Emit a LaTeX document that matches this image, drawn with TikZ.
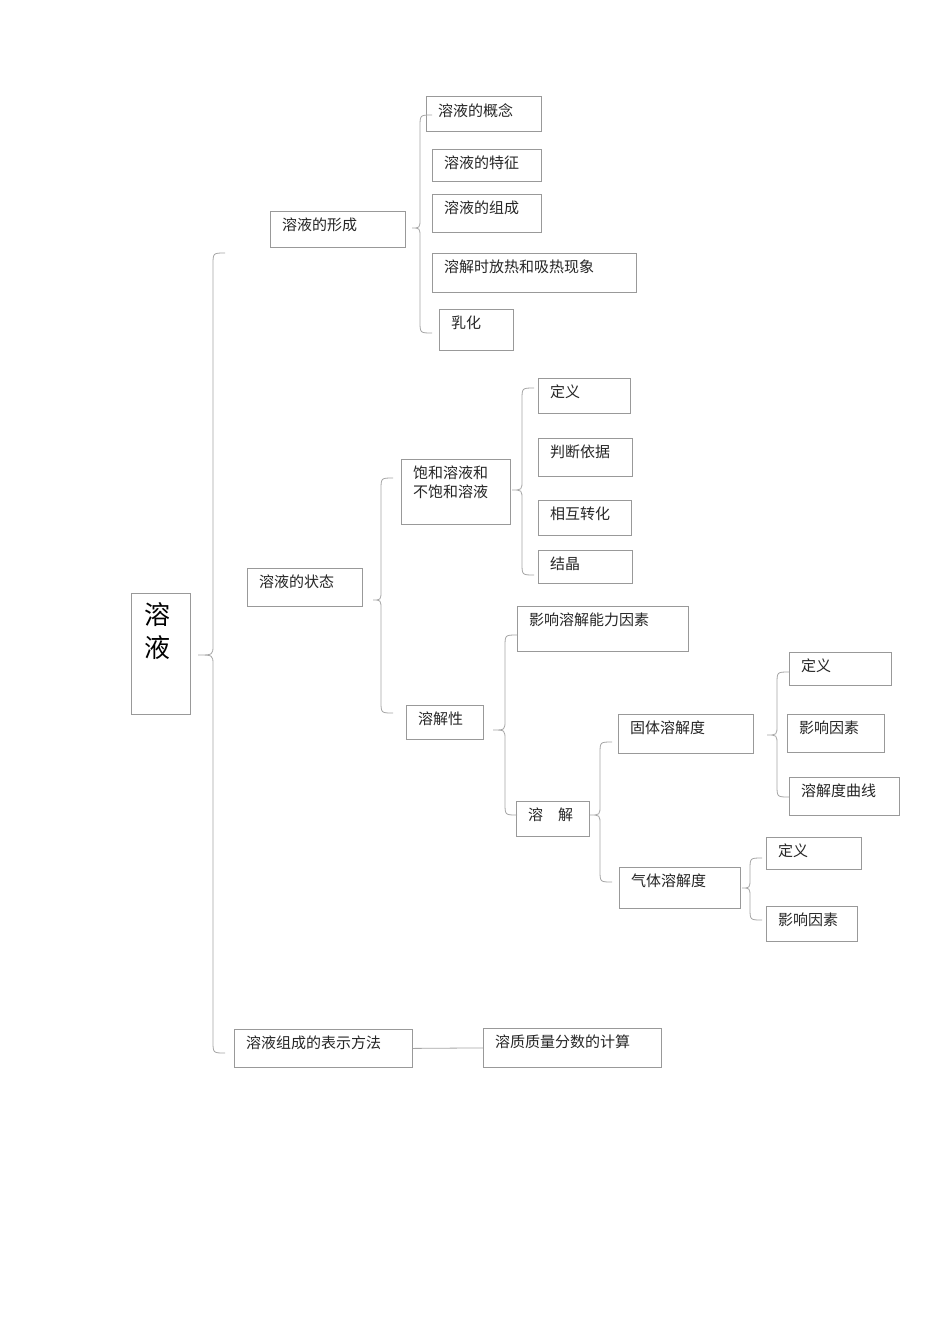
\documentclass[tikz,border=0pt]{standalone}
\usepackage{fontspec}
\setmainfont{Liberation Serif}
\newfontfamily\cjk{Noto Sans CJK SC}
\tikzset{x=1pt,y=-1pt,
 boxst/.style={draw=black!40,line width=0.8pt,inner sep=0pt,anchor=north west},
 txtst/.style={anchor=north west,inner sep=0pt,font=\cjk\fontsize{15}{19}\selectfont,text=black!85,align=left},
 bracest/.style={draw=black!35,line width=0.8pt}}
\newcommand\bx[6]{%
 \node[boxst,minimum width=#4pt-#2pt,minimum height=#5pt-#3pt] (#1) at (#2,#3) {};
 \node[txtst] (#1t) at (#2+12,#3+7) {#6};}
\newcommand\mybrace[5]{%
 \draw[bracest] (#3+12,#4) .. controls (#3,#4) .. (#3,#4+12) -- (#3,#2-10) .. controls (#3,#2) .. (#1,#2) .. controls (#3,#2) .. (#3,#2+10) -- (#3,#5-12) .. controls (#3,#5) .. (#3+12,#5);}
\begin{document}
\begin{tikzpicture}
\useasboundingbox[fill=white] (0,0) rectangle (950,1344);
\node[boxst,minimum width=59pt,minimum height=121pt] (root) at (131,593) {};
\node[anchor=north west,inner sep=0pt,font=\cjk\fontsize{26}{33}\selectfont,align=left] (roott) at (144,602) {溶\\液};
\bx{a}{270}{211}{405}{247}{溶液的形成}
\bx{a1}{426}{96}{541}{131}{溶液的概念}
\bx{a2}{432}{149}{541}{181}{溶液的特征}
\bx{a3}{432}{194}{541}{232}{溶液的组成}
\bx{a4}{432}{253}{636}{292}{溶解时放热和吸热现象}
\bx{a5}{439}{309}{513}{350}{乳化}
\bx{b}{247}{568}{362}{606}{溶液的状态}
\bx{b1}{401}{459}{510}{524}{饱和溶液和\\不饱和溶液}
\bx{c1}{538}{378}{630}{413}{定义}
\bx{c2}{538}{438}{632}{476}{判断依据}
\bx{c3}{538}{500}{631}{535}{相互转化}
\bx{c4}{538}{550}{632}{583}{结晶}
\bx{b2}{406}{705}{483}{739}{溶解性}
\bx{d1}{517}{606}{688}{651}{影响溶解能力因素}
\bx{d2}{516}{801}{589}{836}{溶\hspace{1em}解}
\bx{e1}{618}{714}{753}{753}{固体溶解度}
\bx{e2}{619}{867}{740}{908}{气体溶解度}
\bx{f1}{789}{652}{891}{685}{定义}
\bx{f2}{787}{714}{884}{752}{影响因素}
\bx{f3}{789}{777}{899}{815}{溶解度曲线}
\bx{g1}{766}{837}{861}{869}{定义}
\bx{g2}{766}{906}{857}{941}{影响因素}
\bx{h}{234}{1029}{412}{1067}{溶液组成的表示方法}
\bx{h1}{483}{1028}{661}{1067}{溶质质量分数的计算}
\draw[bracest] (h.east) -- (h1.west);
\mybrace{198}{655}{213}{253}{1053}
\mybrace{412}{228}{420}{115}{333}
\mybrace{373}{600}{381}{478}{713}
\mybrace{512}{490}{522}{388}{575}
\mybrace{493}{730}{505}{635}{815}
\mybrace{590}{815}{600}{742}{882}
\mybrace{767}{735}{777}{672}{797}
\mybrace{742}{888}{750}{858}{920}
\end{tikzpicture}
\end{document}
